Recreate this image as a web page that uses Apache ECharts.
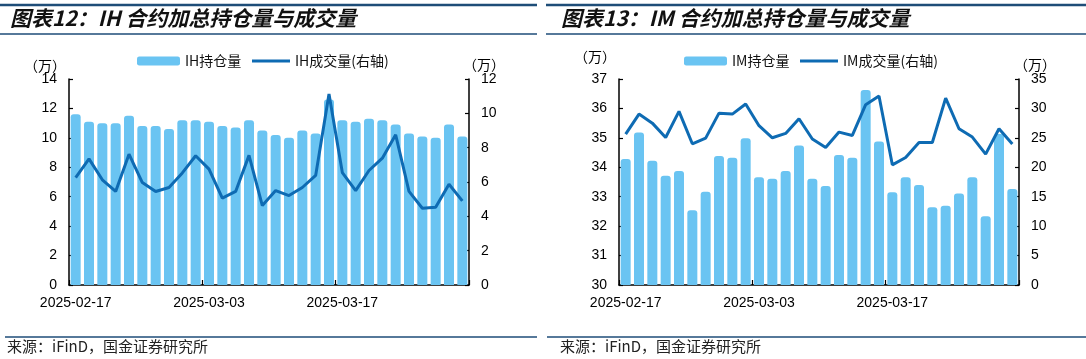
<!DOCTYPE html>
<html>
<head>
<meta charset="utf-8">
<script src="https://cdn.jsdelivr.net/npm/echarts@6/dist/echarts.min.js"></script>
<style>
html,body{margin:0;padding:0;background:#fff;}
#c{width:1086px;height:359px;}
</style>
</head>
<body>
<div id="c"></div>
<script>
// ---- data ----
const dates = ['2025-02-17','2025-02-18','2025-02-19','2025-02-20','2025-02-21','2025-02-24','2025-02-25','2025-02-26','2025-02-27','2025-02-28',
  '2025-03-03','2025-03-04','2025-03-05','2025-03-06','2025-03-07','2025-03-10','2025-03-11','2025-03-12','2025-03-13','2025-03-14',
  '2025-03-17','2025-03-18','2025-03-19','2025-03-20','2025-03-21','2025-03-24','2025-03-25','2025-03-26','2025-03-27','2025-03-28'];
const ihHold = [11.6,11.1,11.0,11.0,11.5,10.8,10.8,10.6,11.2,11.2,11.1,10.8,10.7,11.2,10.5,10.2,10.0,10.5,10.3,12.6,11.2,11.1,11.3,11.2,10.9,10.3,10.1,10.0,10.9,10.1];
const ihVol = [6.26,7.35,6.13,5.45,7.62,5.97,5.45,5.68,6.53,7.53,6.75,5.06,5.45,7.55,4.63,5.5,5.21,5.68,6.38,11.12,6.55,5.5,6.67,7.39,8.75,5.45,4.47,4.53,5.87,4.9];
const imHold = [34.28,35.18,34.22,33.71,33.87,32.54,33.17,34.38,34.32,34.99,33.66,33.61,33.87,34.74,33.61,33.36,34.42,34.32,36.63,34.88,33.15,33.66,33.40,32.64,32.69,33.11,33.66,32.34,35.13,33.26];
const imVol = [25.64,29.04,27.5,25.07,29.5,23.99,24.96,29.2,29.04,30.74,27.06,25.01,25.75,28.25,24.8,23.37,25.98,25.41,30.63,32.1,20.42,21.67,24.22,24.22,31.76,26.55,25.13,22.23,26.55,23.94];
const titles = ['图表12：IH 合约加总持仓量与成交量', '图表13：IM 合约加总持仓量与成交量'];
const names = [['IH持仓量','IH成交量(右轴)'], ['IM持仓量','IM成交量(右轴)']];
const source = '来源：iFinD，国金证券研究所';
const unit = '（万）';

// ---- styles ----
const BAR = '#6AC4F2';
const LINE = '#0E6BB3';
const FONT = 'Liberation Sans, Arial, sans-serif';
const CJK = 'Noto Sans CJK SC';

const chart = echarts.init(document.getElementById('c'), null, {renderer: 'canvas'});

function xAxis(g) {
  return {
    type: 'category', gridIndex: g, data: dates, boundaryGap: true,
    axisLine: {show: true, onZero: false, lineStyle: {color: '#000', width: 1.5}},
    axisTick: {show: true, inside: true, length: 5, interval: 9, lineStyle: {color: '#000', width: 1.2}},
    axisLabel: {interval: 9, color: '#000', fontSize: 14, fontFamily: FONT, margin: 11},
    splitLine: {show: false}
  };
}
function yAxis(g, pos, min, max, step) {
  return {
    type: 'value', gridIndex: g, position: pos, min: min, max: max, interval: step,
    axisLine: {show: true, lineStyle: {color: '#000', width: 1.5}},
    axisTick: {show: true, inside: true, length: 4, lineStyle: {color: '#000', width: 1.2}},
    axisLabel: {color: '#000', fontSize: 14, fontFamily: FONT, margin: 12},
    splitLine: {show: false}
  };
}
function barSeries(name, xi, yi, data) {
  return {
    name: name, type: 'bar', xAxisIndex: xi, yAxisIndex: yi, data: data,
    barCategoryGap: '25%', clip: true,
    itemStyle: {color: BAR, borderRadius: [3, 3, 0, 0]}
  };
}
function lineSeries(name, xi, yi, data) {
  return {
    name: name, type: 'line', xAxisIndex: xi, yAxisIndex: yi, data: data,
    symbol: 'none', z: 5,
    lineStyle: {color: LINE, width: 3}, itemStyle: {color: LINE}
  };
}
function barLegend(name, left) {
  return {
    data: [{name: name, icon: 'roundRect'}], left: left, top: 54, itemWidth: 43, itemHeight: 9,
    textStyle: {fontSize: 14, color: '#111', fontFamily: CJK}, padding: 0
  };
}
function lineLegend(name, left) {
  return {
    data: [{name: name, icon: 'rect'}], left: left, top: 54, itemWidth: 38, itemHeight: 3,
    textStyle: {fontSize: 14, color: '#111', fontFamily: CJK}, padding: 0
  };
}
function txt(x, y, s, style) {
  return {type: 'text', left: x, top: y, style: Object.assign({text: s, fill: '#000', font: '13px ' + CJK}, style || {})};
}
function hline(x1, x2, y, w, c) {
  return {type: 'line', shape: {x1: x1, y1: y, x2: x2, y2: y}, style: {stroke: c, lineWidth: w}, silent: true};
}

const option = {
  backgroundColor: '#fff',
  animation: false,
  grid: [
    {left: 69, top: 79, width: 400, height: 206, containLabel: false},
    {left: 619, top: 79, width: 400, height: 206, containLabel: false}
  ],
  legend: [
    barLegend(names[0][0], 137), lineLegend(names[0][1], 252),
    barLegend(names[1][0], 684), lineLegend(names[1][1], 800)
  ],
  xAxis: [xAxis(0), xAxis(1)],
  yAxis: [
    yAxis(0, 'left', 0, 14, 2), yAxis(0, 'right', 0, 12, 2),
    yAxis(1, 'left', 30, 37, 1), yAxis(1, 'right', 0, 35, 5)
  ],
  series: [
    barSeries(names[0][0], 0, 0, ihHold), lineSeries(names[0][1], 0, 1, ihVol),
    barSeries(names[1][0], 1, 2, imHold), lineSeries(names[1][1], 1, 3, imVol)
  ],
  graphic: [
    hline(0, 537, 5, 2.5, '#1E4D78'), hline(0, 537, 34, 1.5, '#1E4D78'),
    hline(546, 1086, 5, 2.5, '#1E4D78'), hline(546, 1086, 34, 1.5, '#1E4D78'),
    hline(5, 537, 337, 1.5, '#1E4D78'), hline(547, 1086, 337, 1.5, '#1E4D78'),
    txt(10, 8, titles[0], {font: 'italic bold 21px ' + CJK, fill: '#111'}),
    txt(561, 8, titles[1], {font: 'italic bold 21px ' + CJK, fill: '#111'}),
    txt(7, 339, source, {font: '15px ' + CJK, fill: '#222'}),
    txt(560, 339, source, {font: '15px ' + CJK, fill: '#222'}),
    txt(24, 59, unit, {font: '14px ' + CJK}), txt(463, 58, unit, {font: '14px ' + CJK}),
    txt(574, 50, unit, {font: '14px ' + CJK}), txt(1014, 58, unit, {font: '14px ' + CJK})
  ]
};
chart.setOption(option);
</script>
</body>
</html>
